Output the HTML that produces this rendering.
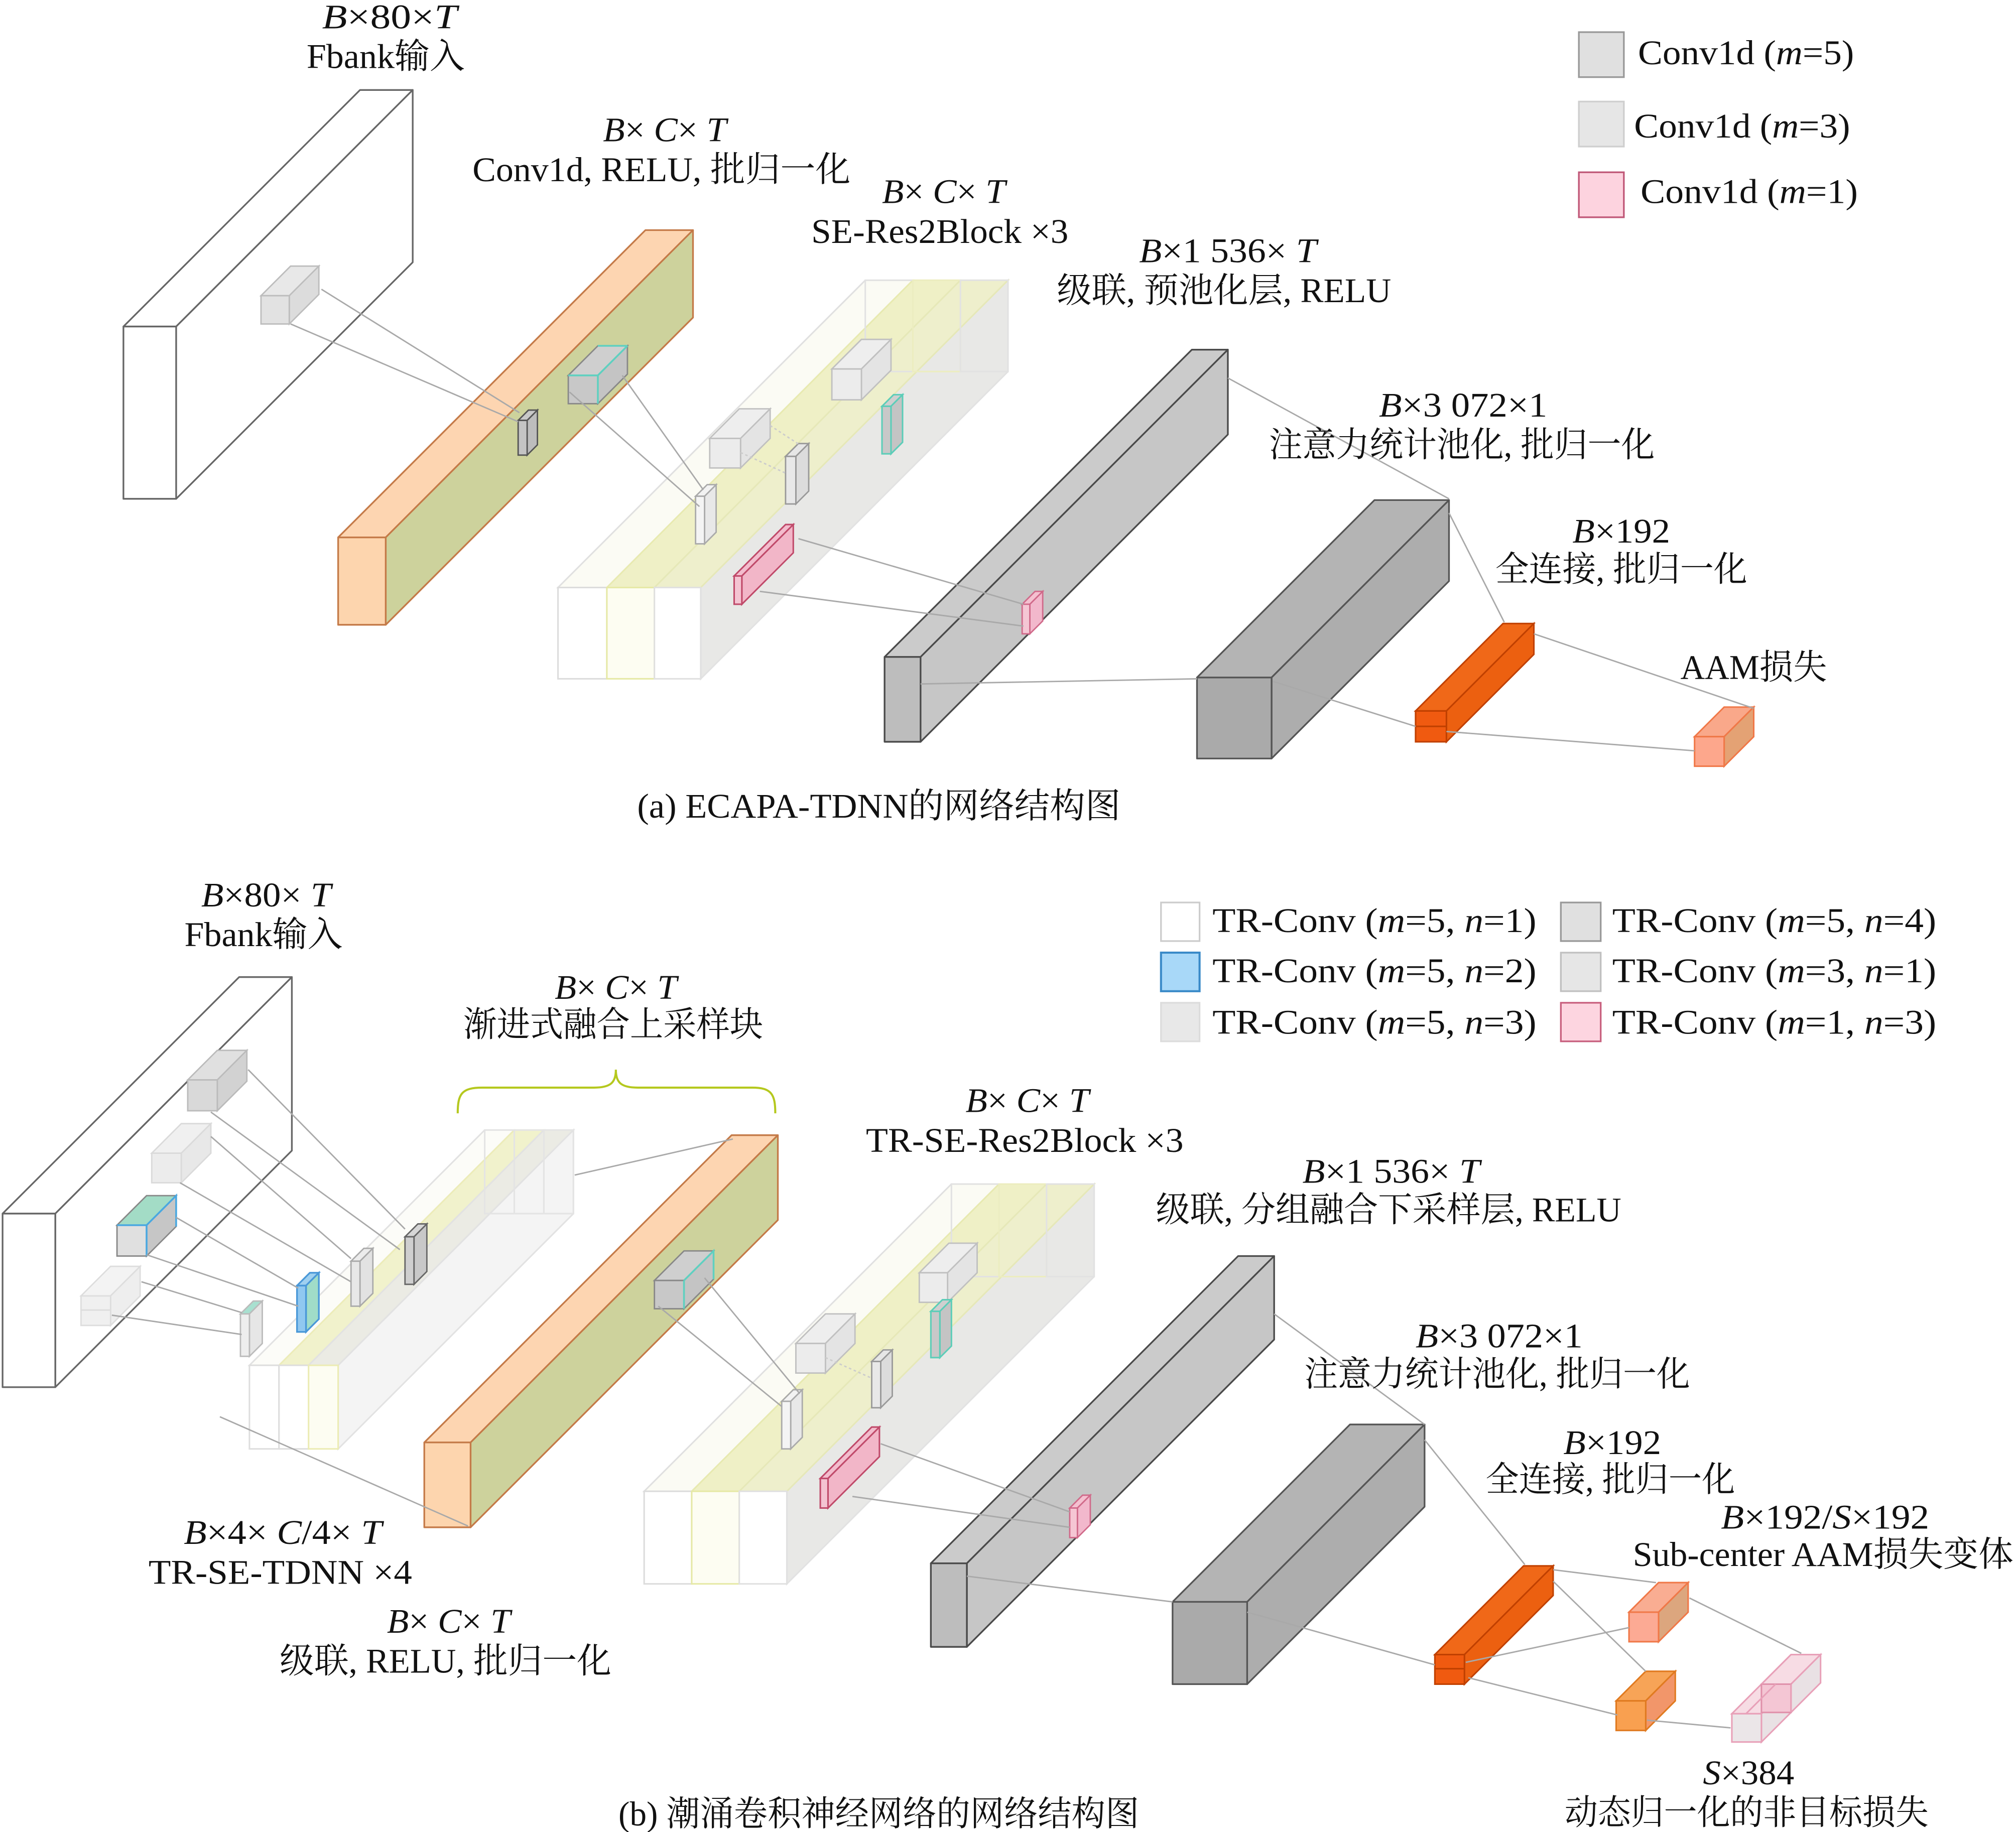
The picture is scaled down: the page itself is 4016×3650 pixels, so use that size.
<!DOCTYPE html>
<html><head><meta charset="utf-8">
<style>
html,body{margin:0;padding:0;background:#fff;}
svg{display:block;}
text{font-family:"Liberation Serif","Noto Serif CJK SC",serif;font-size:27px;fill:#111;}
.i{font-style:italic;}
</style></head>
<body>
<svg xmlns="http://www.w3.org/2000/svg" width="4016" height="3650" viewBox="0 0 1568 1425" preserveAspectRatio="none">
<rect x="0" y="0" width="1568" height="1425" fill="#fff"/>

<!-- ================= (a) ================= -->
<!-- input slab -->
<g stroke="#666" stroke-width="1.3" fill="#fff" stroke-linejoin="round">
<polygon points="96,254 280,70 321,70 137,254"/>
<polygon points="137,254 321,70 321,204 137,388"/>
<rect x="96" y="254" width="41" height="134"/>
</g>
<!-- input cube -->
<g stroke="#bdbdbd" stroke-width="1.1">
<polygon points="203,230 226,207 248,207 225,230" fill="#e8e8e8"/>
<polygon points="225,230 248,207 248,229 225,252" fill="#dcdcdc"/>
<rect x="203" y="230" width="22" height="22" fill="#e2e2e2"/>
</g>

<!-- orange slab (a) -->
<g stroke="#c47a48" stroke-width="1.3" stroke-linejoin="round">
<polygon points="263,418 502,179 539,179 300,418" fill="#fdd5b1"/>
<polygon points="300,418 539,179 539,247 300,486" fill="#cdd29c"/>
<rect x="263" y="418" width="37" height="68" fill="#fdd5ae"/>
</g>
<!-- cube on orange (a) -->
<g stroke="#888" stroke-width="1.1">
<polygon points="442,292 465,269 488,269 465,292" fill="#cfcfcf"/>
<polygon points="465,292 488,269 488,291 465,314" fill="#c4c4c4"/>
<rect x="442" y="292" width="23" height="22" fill="#c8c8c8"/>
</g>
<g stroke="#5fd0c0" stroke-width="1.4" fill="none">
<polyline points="442,292 465,292 488,269"/><line x1="465" y1="292" x2="465" y2="314"/><line x1="465" y1="269" x2="488" y2="269"/>
</g>
<!-- thin dark slab on orange (a) -->
<g stroke="#555" stroke-width="1.1">
<polygon points="403,327 411,319 418,319 410,327" fill="#c8c8c8"/>
<polygon points="410,327 418,319 418,346 410,354" fill="#bdbdbd"/>
<rect x="403" y="327" width="7" height="27" fill="#c4c4c4"/>
</g>

<!-- SE-Res2Block (a) -->
<g stroke-width="1.2">
<polygon points="545,457 784,218 784,289 545,528" fill="#e8e8e6" stroke="#e2e2e2"/>
<polygon points="434,457 673,218 710,218 472,457" fill="#fbfbf4" stroke="#e0e0e0"/>
<polygon points="472,457 710,218 747,218 509,457" fill="#eff0c6" stroke="#e8eab0"/>
<polygon points="509,457 747,218 784,218 545,457" fill="#eeefcc" stroke="#e6e8b8"/>
<rect x="673" y="218" width="37" height="71" fill="none" stroke="#e2e2e2"/>
<rect x="710" y="218" width="37" height="71" fill="none" stroke="#ecedc0"/>
<rect x="747" y="218" width="37" height="71" fill="none" stroke="#e2e2e2"/>
<rect x="434" y="457" width="38" height="71" fill="#fff" stroke="#dcdcdc"/>
<rect x="472" y="457" width="37" height="71" fill="#fdfdf2" stroke="#e6e9a6"/>
<rect x="509" y="457" width="36" height="71" fill="#fff" stroke="#e0e0e0"/>
</g>
<!-- SE inner (a) -->
<g stroke="#c0c0c0" stroke-width="1.1">
<polygon points="552,341 575,318 599,318 576,341" fill="#eeeeee"/>
<polygon points="576,341 599,318 599,341 576,364" fill="#e4e4e4"/>
<rect x="552" y="341" width="24" height="23" fill="#ececec"/>
<polygon points="647,287 670,264 693,264 670,287" fill="#eeeeee"/>
<polygon points="670,287 693,264 693,288 670,311" fill="#e4e4e4"/>
<rect x="647" y="287" width="23" height="24" fill="#ececec"/>
</g>
<g stroke="#aaa" stroke-width="1.1">
<polygon points="541,386 550,377 557,377 548,386" fill="#f2f2f2"/>
<polygon points="548,386 557,377 557,414 548,423" fill="#e8e8e8"/>
<rect x="541" y="386" width="7" height="37" fill="#f4f4f4"/>
</g>
<g stroke="#999" stroke-width="1.1">
<polygon points="611,355 621,345 629,345 619,355" fill="#e6e6e6"/>
<polygon points="619,355 629,345 629,382 619,392" fill="#dcdcdc"/>
<rect x="611" y="355" width="8" height="37" fill="#e8e8e8"/>
</g>
<g stroke="#5ccdb8" stroke-width="1.2">
<polygon points="686,316 695,307 702,307 693,316" fill="#cfcfcf"/>
<polygon points="693,316 702,307 702,344 693,353" fill="#c4c4c4"/>
<rect x="686" y="316" width="7" height="37" fill="#c8c8c8"/>
</g>
<g stroke="#c04a6a" stroke-width="1.2">
<polygon points="571,448 611,408 617,408 577,448" fill="#f3bccd"/>
<polygon points="577,448 617,408 617,430 577,470" fill="#f2b6c8"/>
<rect x="571" y="448" width="6" height="22" fill="#f4c4d2"/>
</g>

<!-- dark slab (a) -->
<g stroke="#4a4a4a" stroke-width="1.3" stroke-linejoin="round">
<polygon points="688,511 927,272 955,272 716,511" fill="#cbcbcb"/>
<polygon points="716,511 955,272 955,338 716,577" fill="#c6c6c6"/>
<rect x="688" y="511" width="28" height="66" fill="#bdbdbd"/>
</g>
<g stroke="#d06a8a" stroke-width="1.1">
<polygon points="795,470 805,460 811,460 801,470" fill="#f4c0d0"/>
<polygon points="801,470 811,460 811,483 801,493" fill="#f2b8cc"/>
<rect x="795" y="470" width="6" height="23" fill="#f5c6d4"/>
</g>

<!-- big box (a) -->
<g stroke="#555" stroke-width="1.3" stroke-linejoin="round">
<polygon points="931,527 1069,389 1127,389 989,527" fill="#b4b4b4"/>
<polygon points="989,527 1127,389 1127,452 989,590" fill="#adadad"/>
<rect x="931" y="527" width="58" height="63" fill="#aaaaaa"/>
</g>

<!-- orange bar (a) -->
<g stroke="#c04000" stroke-width="1.2">
<polygon points="1101,553 1169,485 1193,485 1125,553" fill="#f06818"/>
<polygon points="1125,553 1193,485 1193,509 1125,577" fill="#ec6010"/>
<rect x="1101" y="553" width="24" height="24" fill="#f05a10"/>
<line x1="1101" y1="565" x2="1125" y2="565"/>
</g>

<!-- AAM (a) -->
<g stroke="#f07848" stroke-width="1.2">
<polygon points="1318,573 1341,550 1364,550 1341,573" fill="#f9a88a"/>
<polygon points="1341,573 1364,550 1364,573 1341,596" fill="#e4a274"/>
<rect x="1318" y="573" width="23" height="23" fill="#fda78c"/>
</g>

<!-- connectors (a) -->
<g stroke="#a9a9a9" stroke-width="1.1" fill="none">
<line x1="250" y1="225" x2="404" y2="321"/>
<line x1="226" y1="252" x2="403" y2="328"/>
<line x1="443" y1="305" x2="544" y2="394"/>
<line x1="484" y1="292" x2="547" y2="381"/>
<line x1="576" y1="352" x2="611" y2="368" stroke-dasharray="2,2" stroke="#ccc"/>
<line x1="599" y1="331" x2="622" y2="346" stroke-dasharray="2,2" stroke="#ccc"/>
<line x1="621" y1="419" x2="796" y2="470"/>
<line x1="591" y1="460" x2="796" y2="487"/>
<line x1="716" y1="532" x2="931" y2="528"/>
<line x1="955" y1="294" x2="1127" y2="388"/>
<line x1="1127" y1="399" x2="1170" y2="484"/>
<line x1="990" y1="530" x2="1101" y2="565"/>
<line x1="1193" y1="493" x2="1364" y2="551"/>
<line x1="1125" y1="569" x2="1318" y2="584"/>
</g>

<!-- legend (a) -->
<rect x="1228" y="25" width="35" height="35" fill="#e0e0e0" stroke="#999" stroke-width="1.3"/>
<rect x="1228" y="79" width="35" height="35" fill="#e6e6e6" stroke="#cfcfcf" stroke-width="1.3"/>
<rect x="1228" y="134" width="35" height="35" fill="#fdd3df" stroke="#c05878" stroke-width="1.3"/>

<!-- ================= (b) ================= -->
<!-- input slab (b) -->
<g stroke="#666" stroke-width="1.3" fill="#fff" stroke-linejoin="round">
<polygon points="2,944 186,760 227,760 43,944"/>
<polygon points="43,944 227,760 227,895 43,1079"/>
<rect x="2" y="944" width="41" height="135"/>
</g>
<!-- cubes in input (b) -->
<g stroke="#bbb" stroke-width="1.1">
<polygon points="146,840 169,817 192,817 169,840" fill="#e0e0e0"/>
<polygon points="169,840 192,817 192,841 169,864" fill="#d2d2d2"/>
<rect x="146" y="840" width="23" height="24" fill="#d9d9d9"/>
</g>
<g stroke="#dadada" stroke-width="1.1">
<polygon points="118,897 141,874 164,874 141,897" fill="#f0f0f0"/>
<polygon points="141,897 164,874 164,897 141,920" fill="#e8e8e8"/>
<rect x="118" y="897" width="23" height="23" fill="#ececec"/>
</g>
<g stroke="#888" stroke-width="1.1">
<polygon points="91,953 114,930 137,930 114,953" fill="#a3dcc6"/>
<polygon points="114,953 137,930 137,954 114,977" fill="#c6c6c6"/>
<rect x="91" y="953" width="23" height="24" fill="#e0e0e0"/>
</g>
<g stroke="#4aa8e0" stroke-width="1.4" fill="none">
<polyline points="91,953 114,953 137,930 137,954"/><line x1="114" y1="953" x2="114" y2="977"/>
</g>
<g stroke="#dddddd" stroke-width="1.1">
<polygon points="63,1008 86,985 109,985 86,1008" fill="#f3f3f3"/>
<polygon points="86,1008 109,985 109,1008 86,1031" fill="#eeeeee"/>
<rect x="63" y="1008" width="23" height="23" fill="#f0f0f0"/>
<line x1="63" y1="1019" x2="86" y2="1019"/>
</g>

<!-- TR-SE-TDNN stack (b) -->
<g stroke-width="1.2">
<polygon points="263,1062 446,879 446,944 263,1127" fill="#f4f4f4" stroke="#e2e2e2"/>
<polygon points="194,1062 377,879 400,879 217,1062" fill="#fcfcf8" stroke="#e2e2e2"/>
<polygon points="217,1062 400,879 423,879 240,1062" fill="#f1f2cc" stroke="#ececb8"/>
<polygon points="240,1062 423,879 446,879 263,1062" fill="#ebebe4" stroke="#e2e2e2"/>
<rect x="377" y="879" width="23" height="65" fill="none" stroke="#e4e4e4"/>
<rect x="400" y="879" width="23" height="65" fill="none" stroke="#e4e4e4"/>
<rect x="423" y="879" width="23" height="65" fill="none" stroke="#e4e4e4"/>
<rect x="194" y="1062" width="23" height="65" fill="#fff" stroke="#dedede"/>
<rect x="217" y="1062" width="23" height="65" fill="#fff" stroke="#dedede"/>
<rect x="240" y="1062" width="23" height="65" fill="#fdfdf2" stroke="#ececb4"/>
</g>
<!-- thin slabs (b) -->
<g stroke="#bbb" stroke-width="1.1">
<polygon points="187,1022 197,1012 204,1012 194,1022" fill="#a8e0d0"/>
<polygon points="194,1022 204,1012 204,1045 194,1055" fill="#e6e6e6"/>
<rect x="187" y="1022" width="7" height="33" fill="#eeeeee"/>
</g>
<g stroke="#4a98d8" stroke-width="1.3">
<polygon points="231,1000 241,990 248,990 238,1000" fill="#9fd0f0"/>
<polygon points="238,1000 248,990 248,1026 238,1036" fill="#a0dcc8"/>
<rect x="231" y="1000" width="7" height="36" fill="#90c8f0"/>
</g>
<g stroke="#aaa" stroke-width="1.1">
<polygon points="273,981 283,971 290,971 280,981" fill="#ececec"/>
<polygon points="280,981 290,971 290,1006 280,1016" fill="#e2e2e2"/>
<rect x="273" y="981" width="7" height="35" fill="#e8e8e8"/>
</g>
<g stroke="#666" stroke-width="1.1">
<polygon points="315,962 325,952 332,952 322,962" fill="#d6d6d6"/>
<polygon points="322,962 332,952 332,989 322,999" fill="#c8c8c8"/>
<rect x="315" y="962" width="7" height="37" fill="#cfcfcf"/>
</g>

<!-- bracket -->
<path d="M356,866 C356,851 359,846 375,846 L462,846 C475,846 479,842 479,832 C479,842 483,846 496,846 L585,846 C600,846 603,851 603,866" fill="none" stroke="#b5c81e" stroke-width="1.6"/>

<!-- orange slab (b) -->
<g stroke="#c47a48" stroke-width="1.3" stroke-linejoin="round">
<polygon points="330,1122 569,883 605,883 366,1122" fill="#fdd5b1"/>
<polygon points="366,1122 605,883 605,949 366,1188" fill="#cdd29c"/>
<rect x="330" y="1122" width="36" height="66" fill="#fdd5ae"/>
</g>
<g stroke="#888" stroke-width="1.1">
<polygon points="509,996 532,973 555,973 532,996" fill="#cfcfcf"/>
<polygon points="532,996 555,973 555,995 532,1018" fill="#c4c4c4"/>
<rect x="509" y="996" width="23" height="22" fill="#c8c8c8"/>
</g>
<g stroke="#5fd0c0" stroke-width="1.4" fill="none">
<polyline points="532,996 555,973 555,995"/><line x1="532" y1="996" x2="532" y2="1018"/>
</g>

<!-- TR-SE-Res2Block (b) -->
<g stroke-width="1.2">
<polygon points="612,1160 851,921 851,993 612,1232" fill="#e8e8e6" stroke="#e2e2e2"/>
<polygon points="501,1160 740,921 777,921 538,1160" fill="#fbfbf4" stroke="#e0e0e0"/>
<polygon points="538,1160 777,921 814,921 575,1160" fill="#eff0c6" stroke="#e8eab0"/>
<polygon points="575,1160 814,921 851,921 612,1160" fill="#eeefcc" stroke="#e6e8b8"/>
<rect x="740" y="921" width="37" height="72" fill="none" stroke="#e2e2e2"/>
<rect x="777" y="921" width="37" height="72" fill="none" stroke="#ecedc0"/>
<rect x="814" y="921" width="37" height="72" fill="none" stroke="#e2e2e2"/>
<rect x="501" y="1160" width="37" height="72" fill="#fff" stroke="#dcdcdc"/>
<rect x="538" y="1160" width="37" height="72" fill="#fdfdf2" stroke="#e6e9a6"/>
<rect x="575" y="1160" width="37" height="72" fill="#fff" stroke="#e0e0e0"/>
</g>
<g stroke="#c0c0c0" stroke-width="1.1">
<polygon points="619,1045 642,1022 665,1022 642,1045" fill="#eeeeee"/>
<polygon points="642,1045 665,1022 665,1045 642,1068" fill="#e4e4e4"/>
<rect x="619" y="1045" width="23" height="23" fill="#ececec"/>
<polygon points="715,990 738,967 760,967 737,990" fill="#eeeeee"/>
<polygon points="737,990 760,967 760,990 737,1013" fill="#e4e4e4"/>
<rect x="715" y="990" width="22" height="23" fill="#ececec"/>
</g>
<g stroke="#aaa" stroke-width="1.1">
<polygon points="608,1090 617,1081 624,1081 615,1090" fill="#f2f2f2"/>
<polygon points="615,1090 624,1081 624,1118 615,1127" fill="#e8e8e8"/>
<rect x="608" y="1090" width="7" height="37" fill="#f4f4f4"/>
</g>
<g stroke="#999" stroke-width="1.1">
<polygon points="678,1059 687,1050 694,1050 685,1059" fill="#e6e6e6"/>
<polygon points="685,1059 694,1050 694,1086 685,1095" fill="#dcdcdc"/>
<rect x="678" y="1059" width="7" height="36" fill="#e8e8e8"/>
</g>
<g stroke="#5ccdb8" stroke-width="1.2">
<polygon points="724,1020 733,1011 740,1011 731,1020" fill="#cfcfcf"/>
<polygon points="731,1020 740,1011 740,1047 731,1056" fill="#c4c4c4"/>
<rect x="724" y="1020" width="7" height="36" fill="#c8c8c8"/>
</g>
<g stroke="#c04a6a" stroke-width="1.2">
<polygon points="638,1150 678,1110 684,1110 644,1150" fill="#f3bccd"/>
<polygon points="644,1150 684,1110 684,1133 644,1173" fill="#f2b6c8"/>
<rect x="638" y="1150" width="6" height="23" fill="#f4c4d2"/>
</g>

<!-- dark slab (b) -->
<g stroke="#4a4a4a" stroke-width="1.3" stroke-linejoin="round">
<polygon points="724,1216 963,977 991,977 752,1216" fill="#cbcbcb"/>
<polygon points="752,1216 991,977 991,1042 752,1281" fill="#c6c6c6"/>
<rect x="724" y="1216" width="28" height="65" fill="#bdbdbd"/>
</g>
<g stroke="#d06a8a" stroke-width="1.1">
<polygon points="832,1173 842,1163 848,1163 838,1173" fill="#f4c0d0"/>
<polygon points="838,1173 848,1163 848,1186 838,1196" fill="#f2b8cc"/>
<rect x="832" y="1173" width="6" height="23" fill="#f5c6d4"/>
</g>

<!-- big box (b) -->
<g stroke="#555" stroke-width="1.3" stroke-linejoin="round">
<polygon points="912,1246 1050,1108 1108,1108 970,1246" fill="#b4b4b4"/>
<polygon points="970,1246 1108,1108 1108,1172 970,1310" fill="#adadad"/>
<rect x="912" y="1246" width="58" height="64" fill="#aaaaaa"/>
</g>

<!-- orange bar (b) -->
<g stroke="#c04000" stroke-width="1.2">
<polygon points="1116,1287 1185,1218 1208,1218 1139,1287" fill="#f06818"/>
<polygon points="1139,1287 1208,1218 1208,1241 1139,1310" fill="#ec6010"/>
<rect x="1116" y="1287" width="23" height="23" fill="#f05a10"/>
<line x1="1116" y1="1298" x2="1139" y2="1298"/>
</g>

<!-- salmon (b) -->
<g stroke="#f07848" stroke-width="1.2">
<polygon points="1267,1254 1290,1231 1313,1231 1290,1254" fill="#f9ad92"/>
<polygon points="1290,1254 1313,1231 1313,1254 1290,1277" fill="#dca67e"/>
<rect x="1267" y="1254" width="23" height="23" fill="#fcaa94"/>
</g>
<!-- orange box (b) -->
<g stroke="#e07a20" stroke-width="1.2">
<polygon points="1257,1323 1280,1300 1303,1300 1280,1323" fill="#f7a457"/>
<polygon points="1280,1323 1303,1300 1303,1323 1280,1346" fill="#f2966a"/>
<rect x="1257" y="1323" width="23" height="23" fill="#f9a050"/>
</g>
<!-- pink composite (b) -->
<g stroke="#e8a0b8" stroke-width="1.2">
<polygon points="1347,1333 1393,1287 1416,1287 1370,1333" fill="#f7dce4"/>
<polygon points="1370,1333 1416,1287 1416,1309 1370,1355" fill="#e9e1e4"/>
<rect x="1370" y="1310" width="23" height="22" fill="#f4c6d4" stroke="#e090aa"/>
<line x1="1370" y1="1310" x2="1393" y2="1287"/>
<line x1="1393" y1="1310" x2="1393" y2="1332"/>
<rect x="1347" y="1333" width="23" height="22" fill="#ebe6e8"/>
<line x1="1358" y1="1333" x2="1381" y2="1310"/>
</g>

<!-- connectors (b) -->
<g stroke="#a9a9a9" stroke-width="1.1" fill="none">
<line x1="193" y1="832" x2="315" y2="956"/>
<line x1="164" y1="865" x2="311" y2="972"/>
<line x1="164" y1="884" x2="273" y2="979"/>
<line x1="140" y1="920" x2="273" y2="997"/>
<line x1="137" y1="947" x2="232" y2="1002"/>
<line x1="114" y1="976" x2="232" y2="1016"/>
<line x1="110" y1="997" x2="188" y2="1021"/>
<line x1="87" y1="1023" x2="188" y2="1038"/>
<line x1="171" y1="1102" x2="364" y2="1187"/>
<line x1="447" y1="914" x2="570" y2="886"/>
<line x1="512" y1="1016" x2="608" y2="1094"/>
<line x1="548" y1="994" x2="622" y2="1084"/>
<line x1="642" y1="1056" x2="678" y2="1072" stroke-dasharray="2,2" stroke="#ccc"/>
<line x1="685" y1="1123" x2="832" y2="1176"/>
<line x1="663" y1="1164" x2="832" y2="1188"/>
<line x1="752" y1="1226" x2="912" y2="1246"/>
<line x1="991" y1="1022" x2="1108" y2="1108"/>
<line x1="1108" y1="1120" x2="1186" y2="1217"/>
<line x1="970" y1="1254" x2="1116" y2="1295"/>
<line x1="1208" y1="1221" x2="1288" y2="1231"/>
<line x1="1208" y1="1230" x2="1280" y2="1300"/>
<line x1="1140" y1="1293" x2="1267" y2="1266"/>
<line x1="1142" y1="1305" x2="1258" y2="1334"/>
<line x1="1314" y1="1243" x2="1401" y2="1286"/>
<line x1="1281" y1="1338" x2="1346" y2="1344"/>
</g>

<!-- legend (b) -->
<g stroke-width="1.3">
<rect x="903" y="702" width="30" height="30" fill="#fff" stroke="#cccccc"/>
<rect x="903" y="741" width="30" height="30" fill="#a8d8f8" stroke="#3a8ac8" stroke-width="1.6"/>
<rect x="903" y="780" width="30" height="30" fill="#e8e8e8" stroke="#dcdcdc"/>
<rect x="1214" y="702" width="31" height="30" fill="#e0e0e0" stroke="#999"/>
<rect x="1214" y="741" width="31" height="30" fill="#e6e6e6" stroke="#c0c0c0"/>
<rect x="1214" y="780" width="31" height="30" fill="#fdd5e0" stroke="#c8607e"/>
</g>

<!-- ================= TEXT ================= -->
<g>
<!-- (a) -->
<text x="303" y="22" text-anchor="middle" textLength="105" lengthAdjust="spacingAndGlyphs"><tspan class="i">B</tspan>×80×<tspan class="i">T</tspan></text>
<text x="300" y="53" text-anchor="middle" textLength="123" lengthAdjust="spacingAndGlyphs">Fbank输入</text>
<text x="517" y="110" text-anchor="middle" textLength="96" lengthAdjust="spacingAndGlyphs"><tspan class="i">B</tspan>× <tspan class="i">C</tspan>× <tspan class="i">T</tspan></text>
<text x="514.5" y="141" text-anchor="middle" textLength="294" lengthAdjust="spacingAndGlyphs">Conv1d, RELU, 批归一化</text>
<text x="734" y="158" text-anchor="middle" textLength="96" lengthAdjust="spacingAndGlyphs"><tspan class="i">B</tspan>× <tspan class="i">C</tspan>× <tspan class="i">T</tspan></text>
<text x="731" y="189" text-anchor="middle" textLength="200" lengthAdjust="spacingAndGlyphs">SE-Res2Block ×3</text>
<text x="955" y="204" text-anchor="middle" textLength="138" lengthAdjust="spacingAndGlyphs"><tspan class="i">B</tspan>×1 536× <tspan class="i">T</tspan></text>
<text x="952" y="235" text-anchor="middle" textLength="260" lengthAdjust="spacingAndGlyphs">级联, 预池化层, RELU</text>
<text x="1138" y="324" text-anchor="middle" textLength="131" lengthAdjust="spacingAndGlyphs"><tspan class="i">B</tspan>×3 072×1</text>
<text x="1137" y="355" text-anchor="middle" textLength="300" lengthAdjust="spacingAndGlyphs">注意力统计池化, 批归一化</text>
<text x="1261" y="422" text-anchor="middle" textLength="76" lengthAdjust="spacingAndGlyphs"><tspan class="i">B</tspan>×192</text>
<text x="1261" y="452" text-anchor="middle" textLength="196" lengthAdjust="spacingAndGlyphs">全连接, 批归一化</text>
<text x="1364" y="528" text-anchor="middle" textLength="114" lengthAdjust="spacingAndGlyphs">AAM损失</text>
<text x="683.6" y="636" text-anchor="middle" textLength="376" lengthAdjust="spacingAndGlyphs">(a) ECAPA-TDNN的网络结构图</text>
<text x="1274" y="50" textLength="168" lengthAdjust="spacingAndGlyphs">Conv1d (<tspan class="i">m</tspan>=5)</text>
<text x="1271" y="107" textLength="168" lengthAdjust="spacingAndGlyphs">Conv1d (<tspan class="i">m</tspan>=3)</text>
<text x="1276" y="158" textLength="169" lengthAdjust="spacingAndGlyphs">Conv1d (<tspan class="i">m</tspan>=1)</text>

<!-- (b) -->
<text x="207" y="705" text-anchor="middle" textLength="101" lengthAdjust="spacingAndGlyphs"><tspan class="i">B</tspan>×80× <tspan class="i">T</tspan></text>
<text x="205" y="736" text-anchor="middle" textLength="123" lengthAdjust="spacingAndGlyphs">Fbank输入</text>
<text x="479" y="777" text-anchor="middle" textLength="95" lengthAdjust="spacingAndGlyphs"><tspan class="i">B</tspan>× <tspan class="i">C</tspan>× <tspan class="i">T</tspan></text>
<text x="477" y="806" text-anchor="middle" textLength="233" lengthAdjust="spacingAndGlyphs">渐进式融合上采样块</text>
<text x="799" y="865" text-anchor="middle" textLength="96" lengthAdjust="spacingAndGlyphs"><tspan class="i">B</tspan>× <tspan class="i">C</tspan>× <tspan class="i">T</tspan></text>
<text x="797" y="896" text-anchor="middle" textLength="247" lengthAdjust="spacingAndGlyphs">TR-SE-Res2Block ×3</text>
<text x="1082" y="920" text-anchor="middle" textLength="138" lengthAdjust="spacingAndGlyphs"><tspan class="i">B</tspan>×1 536× <tspan class="i">T</tspan></text>
<text x="1080" y="950" text-anchor="middle" textLength="362" lengthAdjust="spacingAndGlyphs">级联, 分组融合下采样层, RELU</text>
<text x="1166" y="1048" text-anchor="middle" textLength="130" lengthAdjust="spacingAndGlyphs"><tspan class="i">B</tspan>×3 072×1</text>
<text x="1164.5" y="1078" text-anchor="middle" textLength="300" lengthAdjust="spacingAndGlyphs">注意力统计池化, 批归一化</text>
<text x="1254" y="1131" text-anchor="middle" textLength="76" lengthAdjust="spacingAndGlyphs"><tspan class="i">B</tspan>×192</text>
<text x="1252.5" y="1160" text-anchor="middle" textLength="194" lengthAdjust="spacingAndGlyphs">全连接, 批归一化</text>
<text x="1419.5" y="1189" text-anchor="middle" textLength="162" lengthAdjust="spacingAndGlyphs"><tspan class="i">B</tspan>×192/<tspan class="i">S</tspan>×192</text>
<text x="1418" y="1218" text-anchor="middle" textLength="296" lengthAdjust="spacingAndGlyphs">Sub-center AAM损失变体</text>
<text x="220" y="1201" text-anchor="middle" textLength="154" lengthAdjust="spacingAndGlyphs"><tspan class="i">B</tspan>×4× <tspan class="i">C</tspan>/4× <tspan class="i">T</tspan></text>
<text x="218" y="1232" text-anchor="middle" textLength="205" lengthAdjust="spacingAndGlyphs">TR-SE-TDNN ×4</text>
<text x="349" y="1270" text-anchor="middle" textLength="96" lengthAdjust="spacingAndGlyphs"><tspan class="i">B</tspan>× <tspan class="i">C</tspan>× <tspan class="i">T</tspan></text>
<text x="346.5" y="1301" text-anchor="middle" textLength="258" lengthAdjust="spacingAndGlyphs">级联, RELU, 批归一化</text>
<text x="1360" y="1388" text-anchor="middle" textLength="71" lengthAdjust="spacingAndGlyphs"><tspan class="i">S</tspan>×384</text>
<text x="1358.5" y="1419" text-anchor="middle" textLength="283" lengthAdjust="spacingAndGlyphs">动态归一化的非目标损失</text>
<text x="683.5" y="1420" text-anchor="middle" textLength="405" lengthAdjust="spacingAndGlyphs">(b) 潮涌卷积神经网络的网络结构图</text>

<text x="943" y="725" textLength="252" lengthAdjust="spacingAndGlyphs">TR-Conv (<tspan class="i">m</tspan>=5, <tspan class="i">n</tspan>=1)</text>
<text x="943" y="764" textLength="252" lengthAdjust="spacingAndGlyphs">TR-Conv (<tspan class="i">m</tspan>=5, <tspan class="i">n</tspan>=2)</text>
<text x="943" y="804" textLength="252" lengthAdjust="spacingAndGlyphs">TR-Conv (<tspan class="i">m</tspan>=5, <tspan class="i">n</tspan>=3)</text>
<text x="1254" y="725" textLength="252" lengthAdjust="spacingAndGlyphs">TR-Conv (<tspan class="i">m</tspan>=5, <tspan class="i">n</tspan>=4)</text>
<text x="1254" y="764" textLength="252" lengthAdjust="spacingAndGlyphs">TR-Conv (<tspan class="i">m</tspan>=3, <tspan class="i">n</tspan>=1)</text>
<text x="1254" y="804" textLength="252" lengthAdjust="spacingAndGlyphs">TR-Conv (<tspan class="i">m</tspan>=1, <tspan class="i">n</tspan>=3)</text>
</g>
</svg>
</body></html>
